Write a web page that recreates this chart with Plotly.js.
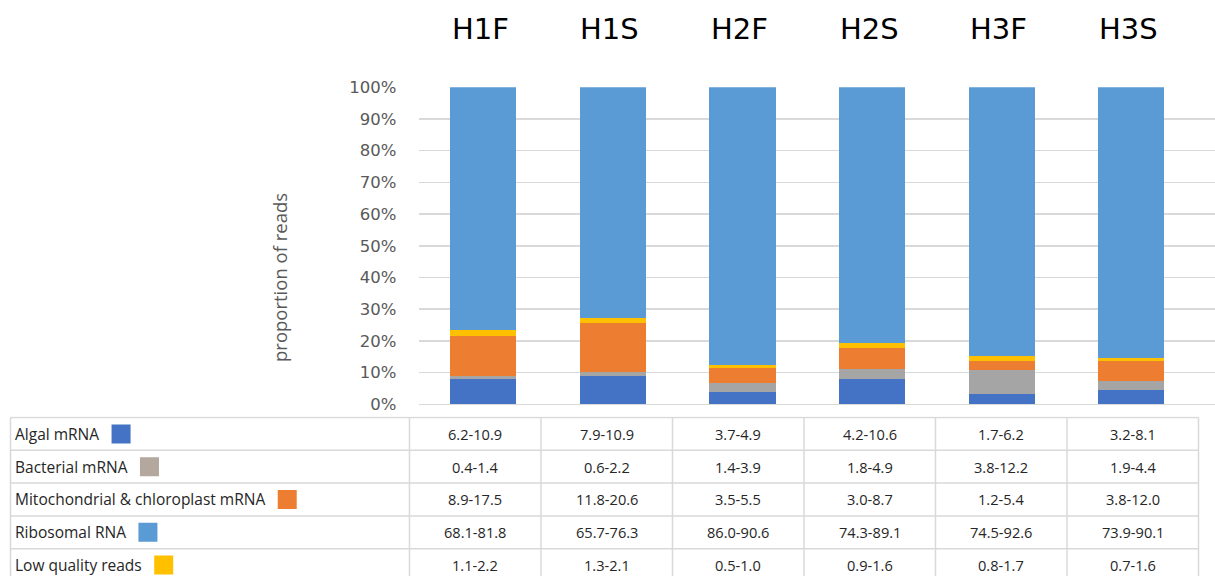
<!DOCTYPE html>
<html>
<head>
<meta charset="utf-8">
<script src="https://cdn.plot.ly/plotly-3.0.1.min.js"></script>
<style>html,body{margin:0;padding:0;background:#fff;}#chart{width:1215px;height:576px;}</style>
</head>
<body>
<div id="chart"></div>
<script>
// ---------- data ----------
const categories = ['H1F', 'H1S', 'H2F', 'H2S', 'H3F', 'H3S'];

// estimated mean proportions (%)
const algalMRNA     = [8.0, 8.8, 3.9, 8.0, 3.1, 4.5];
const bacterialMRNA = [1.0, 1.5, 2.9, 3.1, 7.6, 2.7];
const mitoChloMRNA  = [12.6, 15.3, 4.5, 6.6, 3.0, 6.4];
const lowQuality    = [1.9, 1.7, 1.1, 1.5, 1.4, 0.9];
const ribosomalRNA  = [76.5, 72.7, 87.6, 80.8, 84.9, 85.5];

// table row labels and ranges
const rowLabels = ['Algal mRNA', 'Bacterial mRNA', 'Mitochondrial & chloroplast mRNA', 'Ribosomal RNA', 'Low quality reads'];
const algalRange     = ['6.2-10.9', '7.9-10.9', '3.7-4.9', '4.2-10.6', '1.7-6.2', '3.2-8.1'];
const bacterialRange = ['0.4-1.4', '0.6-2.2', '1.4-3.9', '1.8-4.9', '3.8-12.2', '1.9-4.4'];
const mitoRange      = ['8.9-17.5', '11.8-20.6', '3.5-5.5', '3.0-8.7', '1.2-5.4', '3.8-12.0'];
const riboRange      = ['68.1-81.8', '65.7-76.3', '86.0-90.6', '74.3-89.1', '74.5-92.6', '73.9-90.1'];
const lowRange       = ['1.1-2.2', '1.3-2.1', '0.5-1.0', '0.9-1.6', '0.8-1.7', '0.7-1.6'];

const yTicks = [0, 10, 20, 30, 40, 50, 60, 70, 80, 90, 100];
const yTitle = 'proportion of reads';

// ---------- styles / layout constants ----------
const W = 1215, H = 576;
const C = {algal: '#4472C4', bact: '#A5A5A5', mito: '#ED7D31', ribo: '#5B9BD5', low: '#FFC000'};
const swatchColors = ['#4472C4', '#B3A79E', '#ED7D31', '#5B9BD5', '#FFC000'];
const tableRows = [algalRange, bacterialRange, mitoRange, riboRange, lowRange];

const plotLeft = 418.5, plotTop = 87.3, plotBottom = 404.3, catW = 129.6;
const tblLeft = 10.5, tblLabelRight = 409.5, colW = 131.5, tblTop = 417.5, rowH = 32.8;
const labelFont = 'Open Sans', labelSize = 15.5, valueSize = 14.6;
const lineCol = '#D9D9D9';

// main bar axes
const xRangeEnd = -0.5 + (W - plotLeft) / catW;
const yDomain = [(H - plotBottom) / H, (H - plotTop) / H];

// table axes (columns are 1 unit wide, label column to the left of 0)
const labelColUnits = (tblLabelRight - tblLeft) / colW;
const pad = 0.03;
const x2Range = [-labelColUnits - pad, 6 + pad];
const x2Domain = [(tblLeft - pad * colW) / W, (tblLabelRight + 6 * colW + pad * colW) / W];
const rowsVisible = (H - tblTop) / rowH;
const y2Range = [rowsVisible, -pad];
const y2Domain = [0, (H - (tblTop - pad * rowH)) / H];

function barTrace(name, y, color) {
  return {type: 'bar', name: name, x: categories, y: y, marker: {color: color, line: {width: 0}},
          xaxis: 'x', yaxis: 'y', hoverinfo: 'skip'};
}

const traces = [
  barTrace('Algal mRNA', algalMRNA, C.algal),
  barTrace('Bacterial mRNA', bacterialMRNA, C.bact),
  barTrace('Mitochondrial & chloroplast mRNA', mitoChloMRNA, C.mito),
  barTrace('Low quality reads', lowQuality, C.low),
  barTrace('Ribosomal RNA', ribosomalRNA, C.ribo)
];

// measure label widths to place legend swatches after the text
const cv = document.createElement('canvas').getContext('2d');
cv.font = labelSize + 'px "' + labelFont + '"';
const textShift = 3;
const swX = rowLabels.map(t => {
  const w = cv.measureText(t).width;
  const px = textShift + 2 + w + 12 + 9.5; // px from table left
  return -labelColUnits + px / colW;
});
traces.push({
  type: 'scatter', mode: 'markers', x: swX, y: rowLabels.map((_, i) => i + 0.5),
  xaxis: 'x2', yaxis: 'y2', hoverinfo: 'skip', showlegend: false,
  marker: {symbol: 'square', size: 19, color: swatchColors, line: {width: 0}}
});

const shapes = [];
const annotations = [];
// horizontal lines
for (let i = 0; i <= tableRows.length; i++) {
  shapes.push({type: 'line', xref: 'x2', yref: 'y2', x0: -labelColUnits, x1: 6, y0: i, y1: i,
               line: {color: lineCol, width: 1.5}});
}
// vertical lines
[-labelColUnits, 0, 1, 2, 3, 4, 5, 6].forEach(x => {
  shapes.push({type: 'line', xref: 'x2', yref: 'y2', x0: x, x1: x, y0: 0, y1: tableRows.length,
               line: {color: lineCol, width: 1.5}});
});
// cells
rowLabels.forEach((lab, i) => {
  annotations.push({xref: 'x2', yref: 'y2', x: -labelColUnits, y: i + 0.5, xanchor: 'left', yanchor: 'middle',
                    xshift: textShift, text: lab, showarrow: false,
                    font: {family: labelFont, size: labelSize, color: '#262626'}});
  tableRows[i].forEach((v, j) => {
    annotations.push({xref: 'x2', yref: 'y2', x: j + 0.5, y: i + 0.5, xanchor: 'center', yanchor: 'middle',
                      text: v, showarrow: false,
                      font: {family: labelFont, size: valueSize, color: '#262626'}});
  });
});
// category headers above the bars
categories.forEach(c => {
  annotations.push({xref: 'x', yref: 'paper', x: c, y: (H - 29) / H, xanchor: 'center', yanchor: 'middle',
                    xshift: -3, text: c, showarrow: false,
                    font: {family: 'DejaVu Sans', size: 29, color: '#000000'}});
});
// y-axis title (placed lower than the axis centre, as in the original)
annotations.push({xref: 'paper', yref: 'paper', x: 279 / W, y: (H - 278) / H, xanchor: 'center', yanchor: 'middle',
                  text: yTitle, textangle: -90, showarrow: false,
                  font: {family: 'Open Sans', size: 18.5, color: '#595959'}});

const layout = {
  width: W, height: H,
  margin: {l: 0, r: 0, t: 0, b: 0, pad: 0},
  paper_bgcolor: '#ffffff', plot_bgcolor: '#ffffff',
  showlegend: false,
  barmode: 'stack', bargap: 0.49,
  xaxis: {domain: [plotLeft / W, 1], range: [-0.5, xRangeEnd], type: 'category',
          showticklabels: false, showgrid: false, zeroline: false, showline: false, ticks: '', fixedrange: true},
  yaxis: {domain: yDomain, range: [0, 100], tickvals: yTicks, ticktext: yTicks.map(v => v + '%'),
          showgrid: true, gridcolor: lineCol, gridwidth: 1.5, zeroline: true, zerolinecolor: lineCol, zerolinewidth: 1.5,
          showline: false, ticks: '', ticklabelstandoff: 21, fixedrange: true,
          tickfont: {family: 'DejaVu Sans', size: 16.5, color: '#595959'}},
  xaxis2: {domain: x2Domain, range: x2Range, anchor: 'y2', visible: false, fixedrange: true},
  yaxis2: {domain: y2Domain, range: y2Range, anchor: 'x2', visible: false, fixedrange: true},
  shapes: shapes,
  annotations: annotations
};

Plotly.newPlot('chart', traces, layout, {displayModeBar: false, staticPlot: true});
</script>
</body>
</html>
